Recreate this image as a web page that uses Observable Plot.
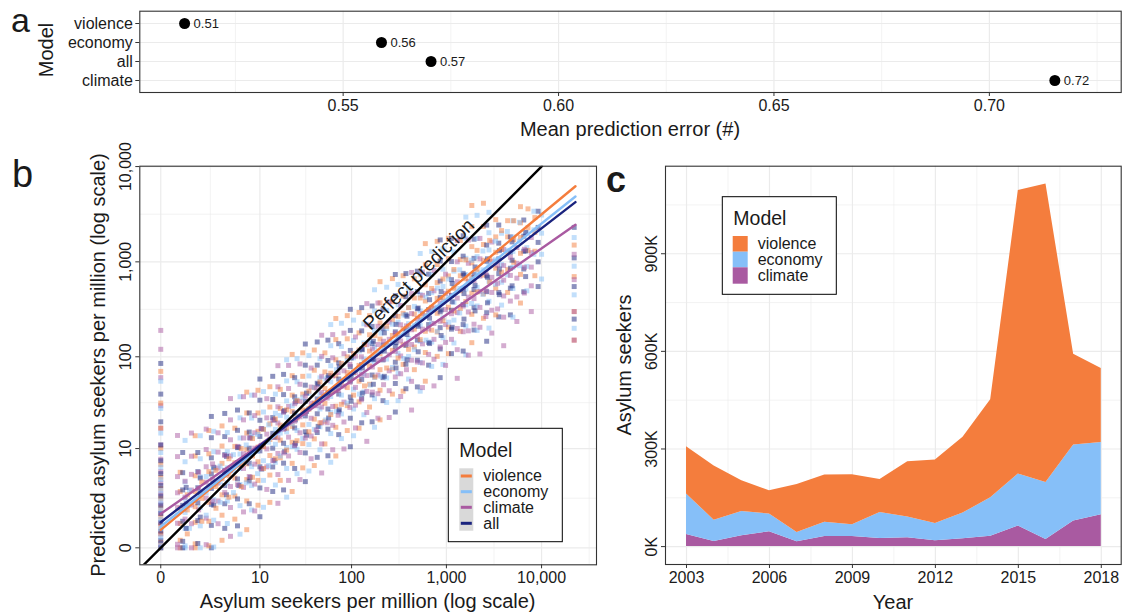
<!DOCTYPE html>
<html><head><meta charset="utf-8">
<script src="https://cdn.jsdelivr.net/npm/d3@7"></script>
<script src="https://cdn.jsdelivr.net/npm/@observablehq/plot@0.6"></script>
<style>
body{margin:0;background:#fff;}
#wrap{position:relative;width:1122px;height:614px;overflow:hidden;background:#fff;}
#wrap .p{position:absolute;}
</style></head><body><div id="wrap"></div>
<script>
// ---------- DATA ----------
// Panel a
const modelsA = ["violence", "economy", "all", "climate"];
const errorA = [0.5132, 0.5589, 0.5704, 0.7152];
const xTicksA = [0.55, 0.60, 0.65, 0.70];
const xMinorA = [0.525, 0.575, 0.625, 0.675, 0.725];

// Panel b
const modelOrder = ["violence", "economy", "climate", "all"];
const modelColors = ["#F47D3D", "#86BFF8", "#A95AA1", "#1A237E"];
const ticksB = [0, 10, 100, 1000, 10000];
const minorB = [2.317, 32.34, 316.9, 3163, 31608];
// observed : predicted values, grouped by observed value ("x:y,y,y;...")
const scatterViolence = "0:0,0.15,0.4,0.7,1.1,1.6,2.3,3.2,4.5,6.5,10,17,32,70;0.6:0,0.2,0.8,1.6,2.9,5.2;1.3:0,0.1,0.85,1.7,2.9,4.7,8.2,14;2.2:0.05,0.9,2,3.3,5.3,8.7,16;3.4:0.2,1.2,2.6,4.3,6.7,10.7,18;5:1,2.5,4.4,6.8,10.6,17;7:0.55,2.1,4.2,6.6,9.8,15,25,42;9.5:1.8,4.1,7,10.4,15.7,25,44;13:2,4.8,8.3,12.7,19,29,48;17:4.1,7.8,12.5,18.4,28,45;23:2.9,6.7,11.8,17.8,26,39,63,106;30:5.9,11.4,18.5,27,40,62,110;40:6.3,12.9,21.4,32,47,72,118;52:11.3,20.3,31.8,46,69,110;68:8.2,17.4,29.6,44,63,93,152,254;90:16,30,47,68,100,155,272;120:17,33,55,81,118,179,294;155:29,51,80,115,171,272;200:21,44,73,108,154,228,371,619;270:40,74,117,168,245,381,667;350:43,83,134,198,288,437,715;460:73,127,196,282,417,663;600:55,111,186,273,388,574,932,1554;800:101,183,288,413,605,937,1641;1050:108,206,334,491,712,1080,1768;1400:186,323,497,714,1056,1677;1850:141,281,469,687,976,1445,2343,3905;2450:255,461,726,1040,1521,2354,4120;3300:277,530,857,1261,1828,2774;4400:477,827,1273,1830,2705;6000:369,738,1230,1805,2564,3794;8500:715,1293,2036,2916;22000:150,300,700,1500;" +
  "0.9:0.4,1.5,2.6;1.7:0.9,2.3,3.9;2.8:1.6,3.4,5.5;4.2:2.4,4.7,7.6;6:3.4,6.3,10;8.2:4.5,8.2,13;11:5.8,10.5,16.5;15:7.6,13.6,21.5;20:9.6,17,27;26:12.3,22,34;35:15.5,27.5,43;46:19.5,34,54;60:24,43,67;78:31,54,85;105:39,68,108;137:49,86,135;177:61,106,168;235:76,133,210;310:97,169,267;400:120,209,330;530:152,264,417;700:191,332,525;920:241,418,660;1200:304,527,832;1600:383,665,1050;2100:482,836,1320;2850:615,1064,1680;3800:780,1350,2130;5100:990,1710,2700;7200:1320,2280,3600";
const scatterEconomy = "0:0,0.1,0.3,0.6,1,1.5,2.1,3,4.2,6,9,15,28,55;0.8:0,0.05,0.6,1.35,2.3,3.9,7,12.4;1.6:0,0.7,1.65,2.8,4.55,7.6,14;2.6:0.02,0.95,2.2,3.6,5.7,9.2,15.7;4:0.8,2.1,3.8,5.9,9.2,15.2;5.8:0.39,1.77,3.62,5.78,8.63,13.2,22.1,37.5;8:1.5,3.5,6.1,9.2,13.9,22,39;11:1.66,4.1,7.2,11.1,16.5,25.6,42.6;15:3.56,6.9,11.2,16.5,24.8,40;20:2.4,5.8,10.3,15.5,22.5,33.8,55.4,93;26:5,9.8,16,23.4,34.7,54.2,95.6;35:5.4,11.1,18.7,27.9,40.9,62.6,103;46:9.7,17.6,27.6,40,59.7,95.4;60:6.9,14.8,25.4,37.7,54,80.4,131,219;78:13,24.4,39,56.2,82.7,128.6,226;105:14,27.6,45.2,67,97.6,148.6,244;135:23.9,42.2,65.4,94.5,140,223;175:17.4,35.7,60.2,88.8,126.5,187.7,305,509;235:32.5,59.6,94.5,135.7,199,309,541;310:34,66.6,108.5,160,232,353,579;400:58,101,156,224,332,528;530:43,87,146,215,305,452,734,1224;700:79,143,226,324,475,736,1288;920:83,159,258,380,551,837,1371;1200:140,244,376,541,800,1271;1600:105,211,353,518,736,1090,1769,2949;2100:190,344,541,776,1135,1758,3078;2800:201,385,625,919,1333,2023,3311;3800:351,610,939,1350,1996;5000:262,525,876,1286,1826,2704;7000:496,897,1412,2024;10000:660,1200,2000,3100;22000:200,450,900,1800;" +
  "1:0.6,1.8,3;2:1.2,2.8,4.6;3.2:2,3.9,6.2;4.8:2.8,5.4,8.5;6.9:3.8,7.1,11;9.4:5,9.3,14.5;12.6:6.3,11.8,18.5;17:8.2,15,23.5;23:10.5,19,30;30:13,24,37;40:16.5,30,47;53:21,37,58;69:26,47,73;90:32,58,91;121:40,73,115;158:50,91,143;204:62,113,178;270:77,140,221;357:96,175,276;460:119,215,340;610:150,270,425;805:186,335,530;1060:232,420,660;1380:290,525,825;1840:365,660,1040;2420:455,825,1300;3280:580,1050,1650;4370:730,1320,2080;5860:910,1650,2600;8300:1200,2170,3400";
const scatterClimate = "0:0.1,0.4,0.8,1.3,1.9,2.7,3.8,5.3,7.5,11,17,30,60,120,190;0.5:0,0.09,0.81,1.66,2.78,4.59,8.06,14.1;1.1:0,0.79,1.82,3.04,4.9,8.14,15;2:0.08,1.05,2.33,3.89,6.09,9.76,16.6;3:0.79,2.1,3.78,5.87,9.1,15.1;4.4:0.32,1.65,3.4,5.5,8.2,12.6,21,35.8;6.4:1.38,3.3,5.8,8.7,13.2,21,37.5;8.7:1.44,3.66,6.55,10.1,15.1,23.4,39;12:3.1,6.07,9.9,14.6,22.1,35.7;16:1.93,4.87,8.78,13.3,19.4,29.2,47.9,80.5;21:4.1,8.2,13.5,19.8,29.4,46,81;28:4.2,9,15.1,22.7,33.4,51,84;37:7.6,13.9,21.9,31.9,47.6,76;48:5.1,11.3,19.5,29,41.6,62,101,169;63:9.7,18.3,29.4,42.6,62.7,97.6,171.6;83:9.9,19.9,32.8,48.7,71,108,178;110:17.1,30.4,47.2,68.3,101.5,162;145:12.1,25.3,42.8,63.2,90,134,218,364;190:21.9,40.4,64,92,135,210,369;250:22.3,43.5,71,105,153,232,381;330:37.7,66,102,147,218,347;430:26.9,54.8,92,135,193,286,464,774;560:47,86,137,196,287,445,780;740:49,94,153,225,327,496,813;980:81,142,219,315,466,741;1300:59,119,199,293,416,617,1001,1669;1700:104,188,297,426,624,966,1692;2250:107,205,332,489,709,1077,1763;3000:178,310,477,687,1016,1614;4000:131,262,438,642,913,1351;5500:236,428,674,966,1413;7800:300,560,880,1250,1800;22000:150,300,650,1200;" +
  "0.8:1,2.4,4;1.5:1.5,3.2,5.2;2.5:2.1,4.2,6.6;3.7:2.8,5.3,8.3;5.4:3.6,6.8,10.6;7.5:4.6,8.6,13.3;10.3:5.8,10.8,16.8;14:7.2,13.4,20.8;18.5:8.9,16.5,25.6;24.5:10.9,20.3,31.5;32:13.2,24.6,38;42:16.2,30,46.5;55:19.5,36.3,56;72:23.6,44,68;96:28.7,53.5,83;127:34.8,65,100;166:42,78,121;218:50.5,94,146;290:61,114,177;380:73,137,212;495:88,164,254;650:106,197,305;860:127,237,367;1130:153,285,442;1500:184,343,531;1950:221,411,637;2600:266,495,767;3450:320,595,922;4700:387,720,1115;6600:470,875,1356";
const scatterAll = "0:0,0.2,0.5,0.85,1.3,1.8,2.5,3.5,5,7.2,11,20,40,85;0.7:0,0.17,0.9,1.79,3.05,5.14,9;1.45:0.11,0.93,1.97,3.27,5.3,9;2.4:0,0.72,1.86,3.2,4.96,7.8,13.3,22.9;3.7:0.6,1.9,3.5,5.5,8.5,13.7,24.7;5.4:0.7,2.26,4.28,6.76,10.25,16.1,26.9;7.5:1.9,4.02,6.73,10.1,15.4,25;10:1.12,3.25,6.08,9.4,13.75,20.8,34.4,58;14:2.9,6.05,10.1,14.9,22.25,35,62;18.5:3.05,6.73,11.5,17.4,25.7,39.5,65;24.5:5.8,10.75,17.1,25,37.4,60;32:3.95,8.9,15.5,23.2,33.4,49.9,81.5,136.5;43:7.9,15.2,24.5,35.5,52.3,81.6,143.5;56:8.24,16.6,27.6,41,59.9,91.4,150;73:14.4,25.7,40,58,86.2,137.5;97:10.5,21.9,37.2,55,78.6,116.8,190,317;128:19.5,36,57.4,82.6,121,188,330;165:20,39.2,64,94.7,137.8,209.5,343.5;215:34,60,92.6,133.5,198,315;290:25.6,52,87.6,129,183.5,272,442,737;375:45.7,83.4,132,189,277,430,753;495:47.8,92,150,221,321,487,798;650:81.5,142,219,315,466.5,741.5;860:60,121,203,298,424,628,1019,1699;1130:108,196,310,444,650,1007,1763;1500:115,219,355,522,757,1148,1879;1950:192,333,512,736,1088,1728;2650:146,292,486,713,1012,1498,2430;3550:264,477,750,1075,1572,2434;4700:277,529,857,1260,1827;6500:485,841,1294,1861,2750;9200:550,1000,1600,2300,3400;22000:250,550,1100,2300;" +
  "0.85:0.6,1.9,3.3;1.6:1.1,2.7,4.4;2.6:1.8,3.7,6;3.9:2.6,5,8.1;5.6:3.5,6.6,10.4;7.7:4.5,8.4,13.2;10.5:5.7,10.7,16.8;14.5:7.3,13.5,21;19:9.2,17,26.5;25:11.5,21,33;33:14.2,26,41;44:17.8,32.5,51;57:22,40,63;74:27,50,78;99:33.5,62,97;130:41,76,119;170:51,94,146;222:62,115,179;295:76,141,220;385:93,172,268;505:113,210,327;665:138,256,400;880:168,312,487;1150:205,380,593;1530:250,464,724;2000:305,566,883;2700:371,690,1076;3600:452,841,1311;4900:560,1040,1620;6800:700,1300,2030";
// fitted lines: observed at both ends, predicted at those ends
const fitX = [0, 22700];
const fitViolence = [0.545, 6222];
const fitEconomy = [0.675, 4853];
const fitClimate = [1.275, 2449];
const fitAll = [0.857, 4234];
const perfectXY = [-0.66, 10090];
const perfectLabel = {x: 512, y: 737, text: "Perfect prediction"};

// Panel c
const years = [2003,2004,2005,2006,2007,2008,2009,2010,2011,2012,2013,2014,2015,2016,2017,2018];
const climateC  = [37000,16000,33000,46000,15000,31000,31000,25000,27000,18000,24000,32000,63000,22000,79000,98000];
const economyC  = [125000,65000,75000,54000,28000,44000,36000,80000,64000,53000,79000,118000,160000,175000,233000,222000];
const violenceC = [145000,167000,94000,72000,148000,145000,154000,101000,170000,195000,233000,301000,871000,917000,279000,227000];
const xTicksC = [2003, 2006, 2009, 2012, 2015, 2018];
const xMinorC = [2004.5, 2007.5, 2010.5, 2013.5, 2016.5];
const yTicksC = [0, 300000, 600000, 900000];
const yMinorC = [150000, 450000, 750000, 1050000];

// ---------- BUILD ----------
const FONT = '"Liberation Sans", Arial, Helvetica, sans-serif';
const GRID = "#EBEBEB";
const INK = "#1a1a1a";
const colorScale = {domain: modelOrder, range: modelColors};
const wrap = document.getElementById("wrap");
function place(el, left, top) {
  const d = document.createElement("div");
  d.className = "p"; d.style.left = left + "px"; d.style.top = top + "px";
  d.appendChild(el); wrap.appendChild(d);
}
const baseStyle = {fontFamily: FONT, background: "transparent", overflow: "visible", color: INK};

const dataA = modelsA.map((m, i) => ({model: m, err: errorA[i]}));
const plotA = Plot.plot({
  width: 1122, height: 140, marginLeft: 139.3, marginRight: 1.3, marginTop: 10.7, marginBottom: 48,
  style: baseStyle,
  x: {domain: [0.5028, 0.7306]},
  y: {type: "point", domain: modelsA, padding: 0.6},
  marks: [
    Plot.gridX(xMinorA, {stroke: GRID, strokeOpacity: 1, strokeWidth: 0.6}),
    Plot.gridX(xTicksA, {stroke: GRID, strokeOpacity: 1, strokeWidth: 1.2}),
    Plot.gridY(modelsA, {stroke: GRID, strokeOpacity: 1, strokeWidth: 1.2}),
    Plot.frame({stroke: "#333", strokeWidth: 1.1}),
    Plot.axisX(xTicksA, {tickFormat: d3.format(".2f"), tickSize: 4, tickPadding: 3, fontSize: 16, stroke: "#333", fill: INK, label: null}),
    Plot.axisY(modelsA, {tickSize: 4, tickPadding: 3, fontSize: 16, stroke: "#333", fill: INK, label: null}),
    Plot.dot(dataA, {x: "err", y: "model", r: 5.5, fill: "black"}),
    Plot.text(dataA, {x: "err", y: "model", text: d => d3.format(".2f")(d.err), dx: 9, textAnchor: "start", fontSize: 13, fill: INK})
  ]
});
place(plotA, 0, 0);

function parsePairs(s, model) {
  const out = [];
  s.split(";").forEach(g => {
    const [xs, ys] = g.split(":");
    ys.split(",").forEach(y => out.push({x: +xs, y: +y, model}));
  });
  return out;
}
const groups = [
  parsePairs(scatterViolence, "violence"), parsePairs(scatterEconomy, "economy"),
  parsePairs(scatterClimate, "climate"), parsePairs(scatterAll, "all")
];
// interleave the models so no colour sits entirely on top
const scatter = [];
const maxLen = d3.max(groups, g => g.length);
for (let i = 0; i < maxLen; i++) groups.forEach(g => { if (g[i]) scatter.push(g[i]); });

const fits = [];
[[fitViolence, "violence"], [fitEconomy, "economy"], [fitClimate, "climate"], [fitAll, "all"]]
  .forEach(([ys, m]) => ys.forEach((y, i) => fits.push({x: fitX[i], y, model: m})));
const perfect = perfectXY.map(v => ({x: v, y: v}));

const plotB = Plot.plot({
  width: 600, height: 474, marginLeft: 139.3, marginRight: 4, marginTop: 25.7, marginBottom: 49.7,
  style: baseStyle,
  x: {type: "symlog", domain: [-0.66, 37750]},
  y: {type: "symlog", domain: [-0.507, 10090]},
  color: colorScale,
  marks: [
    Plot.gridX(minorB, {stroke: GRID, strokeOpacity: 1, strokeWidth: 0.6}),
    Plot.gridX(ticksB, {stroke: GRID, strokeOpacity: 1, strokeWidth: 1.2}),
    Plot.gridY(minorB.slice(0, 4), {stroke: GRID, strokeOpacity: 1, strokeWidth: 0.6}),
    Plot.gridY(ticksB, {stroke: GRID, strokeOpacity: 1, strokeWidth: 1.2}),
    Plot.dot(scatter, {x: "x", y: "y", fill: "model", symbol: "square", r: 2.8, fillOpacity: 0.5}),
    Plot.line(fits, {x: "x", y: "y", z: "model", stroke: "model", strokeWidth: 2.4}),
    Plot.line(perfect, {x: "x", y: "y", stroke: "black", strokeWidth: 2.4, clip: true}),
    Plot.text([perfectLabel], {x: "x", y: "y", text: "text", rotate: -45, fontSize: 19, fill: INK}),
    Plot.frame({stroke: "#333", strokeWidth: 1.1}),
    Plot.axisX(ticksB, {tickFormat: d3.format(","), tickSize: 4, tickPadding: 3, fontSize: 16, stroke: "#333", fill: INK, label: null}),
    Plot.axisY(ticksB, {tickFormat: d3.format(","), tickSize: 4, tickRotate: -90, fontSize: 16, stroke: "#333", fill: INK, label: null})
  ]
});
place(plotB, 0, 140);

const stackData = [];
years.forEach((yr, i) => {
  stackData.push({year: yr, model: "climate", value: climateC[i]});
  stackData.push({year: yr, model: "economy", value: economyC[i]});
  stackData.push({year: yr, model: "violence", value: violenceC[i]});
});
const plotC = Plot.plot({
  width: 522, height: 474, marginLeft: 65, marginRight: 1.3, marginTop: 25.7, marginBottom: 50,
  style: baseStyle,
  x: {domain: [2002.24, 2018.72]},
  y: {domain: [-55000, 1169000]},
  color: colorScale,
  marks: [
    Plot.gridX(xMinorC, {stroke: GRID, strokeOpacity: 1, strokeWidth: 0.6}),
    Plot.gridX(xTicksC, {stroke: GRID, strokeOpacity: 1, strokeWidth: 1.2}),
    Plot.gridY(yMinorC, {stroke: GRID, strokeOpacity: 1, strokeWidth: 0.6}),
    Plot.gridY(yTicksC, {stroke: GRID, strokeOpacity: 1, strokeWidth: 1.2}),
    Plot.areaY(stackData, {x: "year", y: "value", fill: "model", order: ["climate", "economy", "violence"]}),
    Plot.frame({stroke: "#333", strokeWidth: 1.1}),
    Plot.axisX(xTicksC, {tickFormat: d => String(d), tickSize: 4, tickPadding: 3, fontSize: 16, stroke: "#333", fill: INK, label: null}),
    Plot.axisY(yTicksC, {tickFormat: d => (d / 1000) + "K", tickSize: 4, tickRotate: -90, fontSize: 16, stroke: "#333", fill: INK, label: null})
  ]
});
place(plotC, 600, 140);

// ---------- overlay: panel letters, axis titles, legends ----------
const ov = d3.select(wrap).append("svg")
  .attr("width", 1122).attr("height", 614)
  .style("position", "absolute").style("left", 0).style("top", 0)
  .style("font-family", FONT).style("pointer-events", "none");
function txt(x, y, s, size, opts = {}) {
  const t = ov.append("text").attr("x", x).attr("y", y).text(s)
    .attr("font-size", size).attr("fill", INK)
    .attr("text-anchor", opts.anchor || "start");
  if (opts.rotate) t.attr("transform", `rotate(${opts.rotate},${x},${y})`);
  if (opts.weight) t.attr("font-weight", opts.weight);
  return t;
}
txt(11, 32, "a", 34);
txt(12, 187, "b", 38);
txt(606, 192, "c", 36, {weight: "bold"});
txt(53.3, 50, "Model", 20, {anchor: "middle", rotate: -90});
txt(630, 136, "Mean prediction error (#)", 20, {anchor: "middle"});
txt(105, 365, "Predicted asylum seekers per million (log scale)", 20, {anchor: "middle", rotate: -90});
txt(367.7, 607.5, "Asylum seekers per million (log scale)", 20, {anchor: "middle"});
txt(631, 365, "Asylum seekers", 20, {anchor: "middle", rotate: -90});
txt(893, 609, "Year", 20, {anchor: "middle"});

// legend b
ov.append("rect").attr("x", 448.3).attr("y", 428.3).attr("width", 114).attr("height", 113.4)
  .attr("fill", "white").attr("stroke", "black").attr("stroke-width", 1);
txt(459.3, 457, "Model", 19.5);
ov.append("rect").attr("x", 459.3).attr("y", 468.3).attr("width", 14).attr("height", 62.4).attr("fill", "#D9D9D9");
const rowsB = [476, 491.7, 507.3, 523.3];
["violence", "economy", "climate", "all"].forEach((m, i) => {
  ov.append("line").attr("x1", 460.8).attr("x2", 471.8).attr("y1", rowsB[i]).attr("y2", rowsB[i])
    .attr("stroke", modelColors[modelOrder.indexOf(m)]).attr("stroke-width", 3);
  txt(483.3, rowsB[i] + 5.3, m, 16);
});
// legend c
ov.append("rect").attr("x", 722.3).attr("y", 196.7).attr("width", 114).attr("height", 97.6)
  .attr("fill", "white").attr("stroke", "black").attr("stroke-width", 1);
txt(733.3, 224.5, "Model", 19.5);
const rowsC = [[236, 251.7], [251.7, 267.3], [267.3, 283.7]];
["violence", "economy", "climate"].forEach((m, i) => {
  ov.append("rect").attr("x", 732.7).attr("y", rowsC[i][0]).attr("width", 15).attr("height", rowsC[i][1] - rowsC[i][0])
    .attr("fill", modelColors[modelOrder.indexOf(m)]);
  txt(757.7, (rowsC[i][0] + rowsC[i][1]) / 2 + 5.3, m, 16);
});
</script></body></html>
